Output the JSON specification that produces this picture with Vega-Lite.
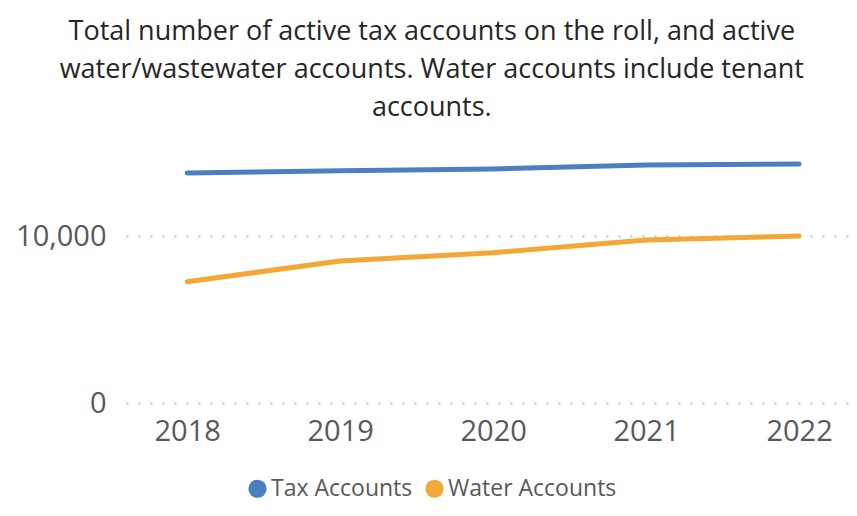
{
  "$schema": "https://vega.github.io/schema/vega-lite/v6.json",
  "autosize": {"type": "none"},
  "width": 722,
  "height": 250,
  "padding": {"left": 126, "top": 153, "right": 9, "bottom": 113},
  "background": "white",
  "title": {
    "text": ["Total number of active tax accounts on the roll, and active", "water/wastewater accounts. Water accounts include tenant", "accounts."],
    "font": "Open Sans",
    "fontSize": 27,
    "fontWeight": "normal",
    "color": "#262626",
    "lineHeight": 38,
    "anchor": "middle",
    "frame": "bounds",
    "offset": 31
  },
  "data": {
    "values": [
      {"year": 2018, "series": "Tax Accounts", "value": 13800},
      {"year": 2019, "series": "Tax Accounts", "value": 13940},
      {"year": 2020, "series": "Tax Accounts", "value": 14040},
      {"year": 2021, "series": "Tax Accounts", "value": 14280},
      {"year": 2022, "series": "Tax Accounts", "value": 14340},
      {"year": 2018, "series": "Water Accounts", "value": 7280},
      {"year": 2019, "series": "Water Accounts", "value": 8520},
      {"year": 2020, "series": "Water Accounts", "value": 9020},
      {"year": 2021, "series": "Water Accounts", "value": 9780},
      {"year": 2022, "series": "Water Accounts", "value": 10020}
    ]
  },
  "mark": {"type": "line", "strokeWidth": 5, "strokeCap": "round", "strokeJoin": "round"},
  "encoding": {
    "x": {
      "field": "year",
      "type": "quantitative",
      "scale": {"domain": [2017.6, 2022.32], "nice": false, "zero": false},
      "axis": {
        "title": null,
        "values": [2018, 2019, 2020, 2021, 2022],
        "format": "d",
        "grid": false,
        "domain": false,
        "ticks": false,
        "labelFont": "Open Sans",
        "labelFontSize": 29,
        "labelColor": "#595959",
        "labelPadding": 14,
        "labelFlush": false
      }
    },
    "y": {
      "field": "value",
      "type": "quantitative",
      "scale": {"domain": [0, 15000], "nice": false},
      "axis": {
        "title": null,
        "values": [0, 10000],
        "format": ",.0f",
        "domain": false,
        "ticks": false,
        "grid": true,
        "gridColor": "#BFBFBF",
        "gridWidth": 2,
        "gridDash": [2, 10],
        "labelFont": "Open Sans",
        "labelFontSize": 29,
        "labelColor": "#595959",
        "labelPadding": 20
      }
    },
    "color": {
      "field": "series",
      "type": "nominal",
      "scale": {"domain": ["Tax Accounts", "Water Accounts"], "range": ["#4A80C2", "#F4A636"]},
      "legend": {
        "title": null,
        "orient": "none",
        "direction": "horizontal",
        "legendX": 120,
        "legendY": 324,
        "symbolType": "circle",
        "symbolSize": 330,
        "symbolStrokeWidth": 0,
        "labelFont": "Open Sans",
        "labelFontSize": 23,
        "labelColor": "#595959",
        "labelOffset": 2,
        "labelLimit": 400,
        "columnPadding": 10,
        "encode": {
          "symbols": {"update": {"fill": {"scale": "color", "field": "value"}, "fillOpacity": {"value": 1}}}
        }
      }
    }
  },
  "config": {"view": {"stroke": null}}
}
